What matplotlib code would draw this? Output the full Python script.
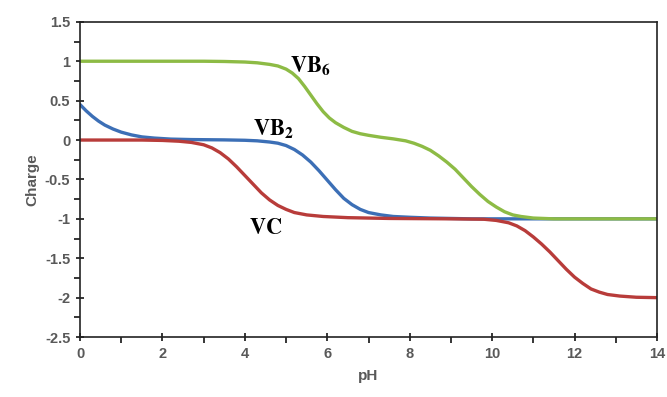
import matplotlib
matplotlib.use('Agg')
import matplotlib.pyplot as plt
from matplotlib.ticker import MultipleLocator

# --- data ---
ph_vb6 = [0, 1, 2, 3, 3.5, 4.0, 4.3, 4.6, 4.8, 5.0, 5.15, 5.3, 5.45, 5.6, 5.75,
          5.9, 6.05, 6.2, 6.4, 6.6, 6.8, 7.0, 7.3, 7.6, 7.9, 8.1, 8.3, 8.5, 8.7,
          8.9, 9.1, 9.3, 9.5, 9.7, 9.9, 10.1, 10.3, 10.5, 10.7, 11.0, 11.5, 12, 13, 14]
q_vb6 = [1, 1, 1, 1, 0.997, 0.99, 0.98, 0.96, 0.94, 0.90, 0.85, 0.78, 0.68, 0.57,
         0.46, 0.36, 0.28, 0.22, 0.16, 0.11, 0.08, 0.06, 0.035, 0.015, -0.01,
         -0.04, -0.08, -0.13, -0.20, -0.28, -0.37, -0.48, -0.59, -0.69, -0.78,
         -0.85, -0.91, -0.95, -0.97, -0.99, -1, -1, -1, -1]

ph_vb2 = [0, 0.15, 0.3, 0.45, 0.6, 0.8, 1.0, 1.25, 1.5, 1.8, 2.2, 2.7, 3.5, 4.0,
          4.3, 4.6, 4.8, 5.0, 5.2, 5.4, 5.6, 5.8, 6.0, 6.2, 6.4, 6.6, 6.8, 7.0,
          7.3, 7.6, 8.0, 8.5, 9.5, 11, 14]
q_vb2 = [0.45, 0.37, 0.30, 0.24, 0.19, 0.14, 0.10, 0.065, 0.04, 0.025, 0.012,
         0.006, 0.002, -0.003, -0.01, -0.025, -0.04, -0.07, -0.12, -0.19, -0.28,
         -0.39, -0.51, -0.63, -0.74, -0.82, -0.88, -0.92, -0.95, -0.97, -0.98,
         -0.99, -1, -1, -1]

ph_vc = [0, 1.5, 2.0, 2.4, 2.7, 3.0, 3.2, 3.4, 3.6, 3.8, 4.0, 4.2, 4.4, 4.6, 4.8,
         5.0, 5.2, 5.5, 5.9, 6.5, 7.5, 9, 9.8, 10.1, 10.4, 10.6, 10.8, 11.0, 11.2,
         11.4, 11.6, 11.8, 12.0, 12.2, 12.4, 12.6, 12.8, 13.1, 13.5, 14]
q_vc = [0, 0, -0.005, -0.015, -0.03, -0.06, -0.10, -0.16, -0.24, -0.34, -0.45,
        -0.56, -0.67, -0.76, -0.83, -0.88, -0.92, -0.95, -0.97, -0.985, -0.995,
        -1, -1.005, -1.02, -1.05, -1.09, -1.15, -1.23, -1.32, -1.42, -1.53, -1.64,
        -1.74, -1.82, -1.89, -1.93, -1.96, -1.98, -1.995, -2]

plt.rcParams['mathtext.fontset'] = 'stix'
plt.rcParams['font.family'] = ['Liberation Sans', 'DejaVu Sans']
plt.rcParams['font.weight'] = 'bold'
tick_col = '#595959'

fig = plt.figure(figsize=(6.67, 3.97), dpi=100)
ax = fig.add_axes([0.12, 0.151, 0.865, 0.794])

ax.plot(ph_vb2, q_vb2, color='#3c6fb6', lw=2.4, solid_capstyle='round', solid_joinstyle='round')
ax.plot(ph_vc, q_vc, color='#b83c3a', lw=2.4, solid_capstyle='round', solid_joinstyle='round')
ax.plot(ph_vb6, q_vb6, color='#8dbb45', lw=2.4, solid_capstyle='round', solid_joinstyle='round')

ax.set_xlim(0, 14)
ax.set_ylim(-2.5, 1.5)
ax.xaxis.set_major_locator(MultipleLocator(2))
ax.xaxis.set_minor_locator(MultipleLocator(1))
ax.yaxis.set_major_locator(MultipleLocator(0.5))
ax.yaxis.set_minor_locator(MultipleLocator(0.25))
ax.yaxis.set_major_formatter(plt.FuncFormatter(lambda v, p: f'{v:g}'))

for s in ax.spines.values():
    s.set_linewidth(1.2)
    s.set_color('#222222')
ax.tick_params(which='major', direction='inout', length=6, width=1.1,
               labelsize=10.5, labelcolor=tick_col, pad=4)
ax.tick_params(which='minor', direction='out', length=4, width=1.1)

ax.set_xlabel('pH', fontsize=11, fontweight='bold', color=tick_col, labelpad=6)
ax.set_ylabel('Charge', fontsize=11, fontweight='bold', color=tick_col, labelpad=4)

lab_kw = dict(fontsize=16, color='black', va='center', ha='left')
ax.text(5.1, 0.94, r'$\mathbf{VB_6}$', **lab_kw)
ax.text(4.2, 0.14, r'$\mathbf{VB_2}$', **lab_kw)
ax.text(4.1, -1.12, r'$\mathbf{VC}$', **lab_kw)

fig.savefig('out.png', dpi=100)
